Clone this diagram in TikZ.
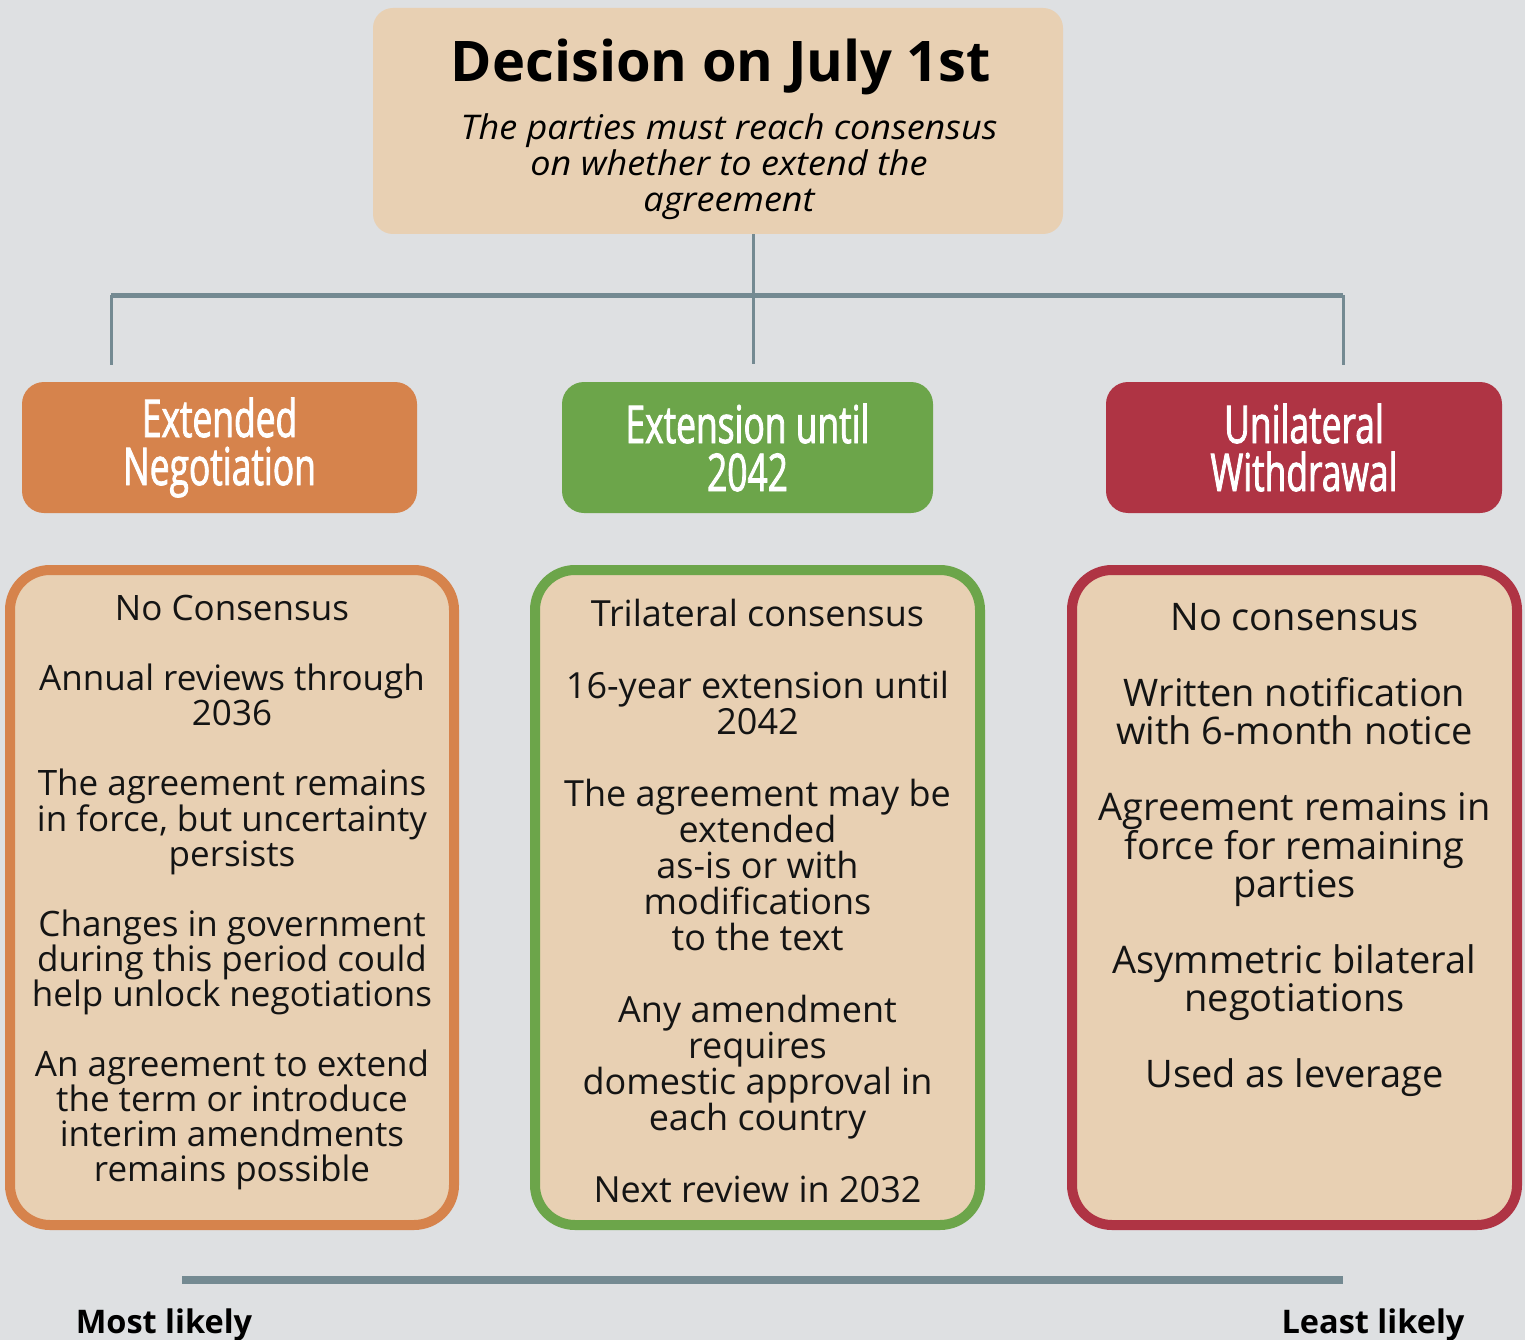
\documentclass[tikz,border=0pt]{standalone}
\usepackage{fontspec}
\setmainfont{Open Sans}
\newfontfamily\headfont[FakeStretch=0.68, FakeBold=1.6]{Open Sans}
\newfontfamily\subfont[FakeStretch=1.06]{Open Sans}
\usepackage{tikz}
\usetikzlibrary{positioning}

\definecolor{bgGrey}{RGB}{222,224,226}
\definecolor{sand}{RGB}{232,208,179}
\definecolor{negOrange}{RGB}{214,131,76}
\definecolor{extGreen}{RGB}{108,165,74}
\definecolor{wdRed}{RGB}{175,52,68}
\definecolor{slate}{RGB}{116,138,146}

\begin{document}
\begin{tikzpicture}[x=1pt,y=-1pt,
  header/.style={rounded corners=22pt, inner sep=0, minimum height=131pt,
    text=white, align=center, font=\headfont\fontsize{52}{48}\selectfont},
  bodybox/.style={draw=#1, fill=sand, line width=10pt, rounded corners=40pt,
    minimum width=445pt, minimum height=655pt, inner sep=0, outer sep=0},
  bodytext/.style={align=center, inner sep=0, text=black!92},
  link/.style={draw=slate, line width=3pt},
  likely/.style={font=\bfseries\fontsize{32.5}{33}\selectfont, anchor=base, text=black}]
\useasboundingbox (0,0) rectangle (1525,1340);
\fill[bgGrey] (0,0) rectangle (1525,1340);

% decision
\node[fill=sand, rounded corners=20pt, minimum width=690pt, minimum height=226pt] (top) at (718,121) {};
\node[font=\bfseries\fontsize{56}{56}\selectfont, anchor=base] (title) at (721,82) {Decision on July 1st};
\node[font=\subfont\itshape\fontsize{34}{36}\selectfont, align=center, anchor=north, inner sep=0] (sub) at (729,113)
  {The parties must reach consensus\\on whether to extend the\\agreement};

\coordinate (busL) at (111,295);
\coordinate (busR) at (1343,295);
\coordinate (endL) at (111,365);
\coordinate (endR) at (1343,365);
\coordinate (endM) at (753,364);
\draw[link] (endM |- top.south) -- (endM);
\draw[link, line width=5pt] (busL) -- (busR);
\draw[link] (busL) -- (endL);
\draw[link] (busR) -- (endR);

% options
\node[header, fill=negOrange, minimum width=395pt] (hdrA) at (219.5,447.5) {Extended\\Negotiation};
\node[header, fill=extGreen, minimum width=371pt] (hdrB) at (747.5,447.5) {Extension until\\2042};
\node[header, fill=wdRed, minimum width=396pt] (hdrC) at (1304,447.5) {Unilateral\\Withdrawal};

\node[bodybox=negOrange, minimum width=444pt] (bodyA) at (232,897.5) {};
\node[bodybox=extGreen] (bodyB) at (757.5,897.5) {};
\node[bodybox=wdRed] (bodyC) at (1294.5,897.5) {};

\node[bodytext, below=25pt of bodyA.north, font=\fontsize{35}{35}\selectfont] (txtA)
  {No Consensus\\[35pt]
   Annual reviews through\\2036\\[35pt]
   The agreement remains\\in force, but uncertainty\\persists\\[35pt]
   Changes in government\\during this period could\\help unlock negotiations\\[35pt]
   An agreement to extend\\the term or introduce\\interim amendments\\remains possible};
\node[bodytext, below=29pt of bodyB.north, font=\fontsize{36}{36}\selectfont] (txtB)
  {Trilateral consensus\\[36pt]
   16-year extension until\\2042\\[36pt]
   The agreement may be\\extended\\as-is or with\\modifications\\to the text\\[36pt]
   Any amendment\\requires\\domestic approval in\\each country\\[36pt]
   Next review in 2032};
\node[bodytext, below=33pt of bodyC.north, font=\fontsize{38}{38}\selectfont] (txtC)
  {No consensus\\[38pt]
   Written notification\\with 6-month notice\\[38pt]
   Agreement remains in\\force for remaining\\parties\\[38pt]
   Asymmetric bilateral\\negotiations\\[38pt]
   Used as leverage};

% likelihood scale
\coordinate (scaleL) at (182,1280);
\coordinate (scaleR) at (1343,1280);
\draw[link, line width=8pt] (scaleL) -- (scaleR);
\node[likely] (most) at (164,1333) {Most likely};
\node[likely] (least) at (1373,1333) {Least likely};
\end{tikzpicture}
\end{document}
